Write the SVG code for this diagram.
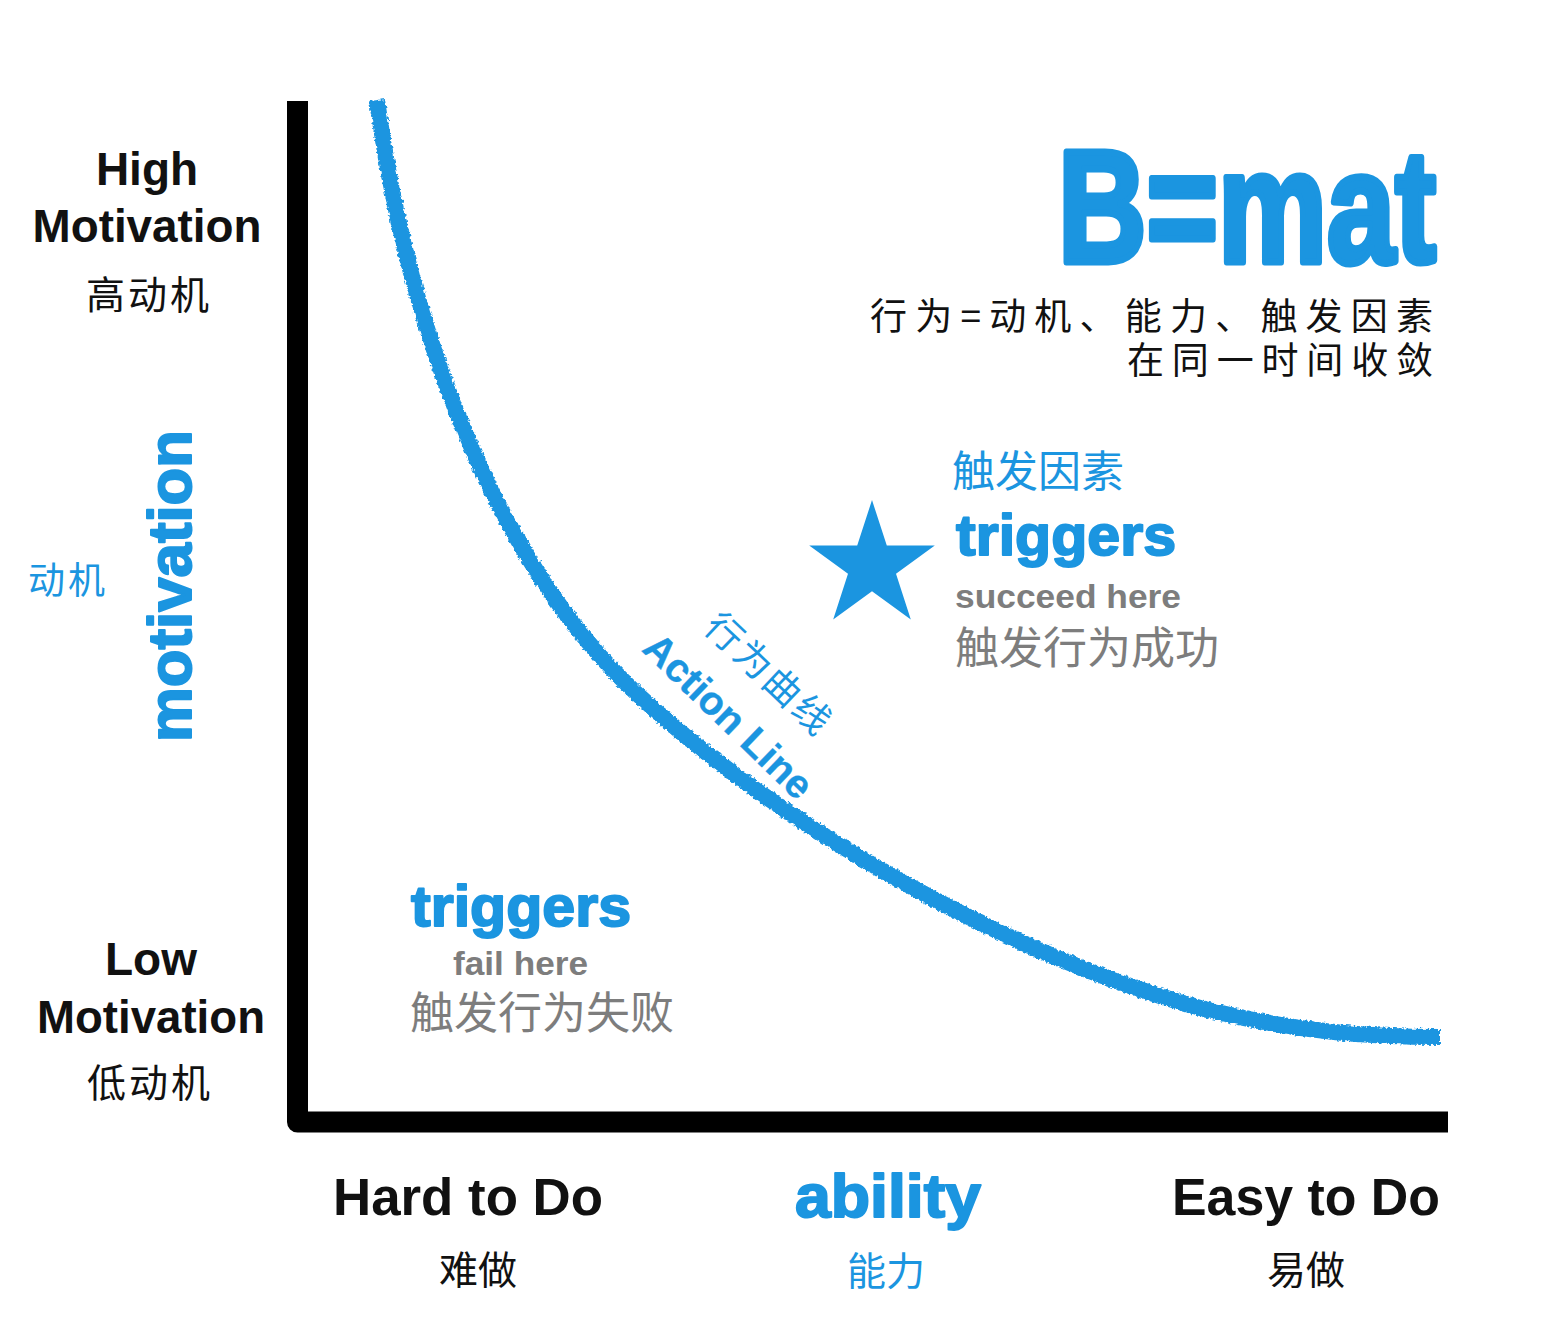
<svg xmlns="http://www.w3.org/2000/svg" width="1566" height="1324" viewBox="0 0 1566 1324">
<defs>
<style>
.en{font-family:"Liberation Sans",Arial,sans-serif;font-weight:bold;fill:#111}
.cn{font-family:"Noto Sans CJK SC",sans-serif;fill:#111}
.blue{fill:#1b95e0}
.gray{fill:#7d7d7d}
.heavy{font-family:"Liberation Sans",Arial,sans-serif;font-weight:bold;fill:#1b95e0;stroke:#1b95e0;stroke-width:2;stroke-linejoin:round}
.mid{text-anchor:middle}
</style>
<filter id="crayon" x="-5%" y="-5%" width="110%" height="110%">
<feTurbulence type="fractalNoise" baseFrequency="0.35" numOctaves="2" seed="3" result="n"/>
<feDisplacementMap in="SourceGraphic" in2="n" scale="5" xChannelSelector="R" yChannelSelector="G"/>
</filter>
</defs>
<rect width="1566" height="1324" fill="#fff"/>

<g id="axes">
<path d="M297.5,101 V1122 H1448" fill="none" stroke="#000" stroke-width="21" stroke-linejoin="round"/>
</g>

<g id="connectors">
<path id="action-line" d="M377,100 C408,330 495,560 635,692 C775,822 1000,952 1200,1008 C1303,1034 1380,1037 1440,1037" fill="none" stroke="#1b95e0" stroke-width="16" filter="url(#crayon)"/>
</g>

<g id="high-motivation">
<text class="en mid" x="147" y="185" font-size="46">High</text>
<text class="en mid" x="147" y="242" font-size="46" textLength="229" lengthAdjust="spacingAndGlyphs">Motivation</text>
<text class="cn mid" x="149" y="309" font-size="39" letter-spacing="3">高动机</text>
</g>

<g id="low-motivation">
<text class="en mid" x="151" y="975" font-size="46">Low</text>
<text class="en mid" x="151" y="1033" font-size="46" textLength="228" lengthAdjust="spacingAndGlyphs">Motivation</text>
<text class="cn mid" x="150" y="1097" font-size="39" letter-spacing="3">低动机</text>
</g>

<g id="motivation-axis-label">
<text class="heavy mid" transform="translate(191,586) rotate(-90)" font-size="62" textLength="312" lengthAdjust="spacingAndGlyphs">motivation</text>
<text class="cn blue" x="28" y="594" font-size="37" letter-spacing="3">动机</text>
</g>

<g id="formula">
<text x="1058" y="262" font-family="Liberation Sans,Arial,sans-serif" font-weight="bold" font-size="160" fill="#1b95e0" stroke="#1b95e0" stroke-width="7" stroke-linejoin="round" textLength="378" lengthAdjust="spacingAndGlyphs">B=mat</text>
<text class="cn" x="870" y="330" font-size="37" textLength="563" lengthAdjust="spacing">行为=动机、能力、触发因素</text>
<text class="cn" x="1127" y="374" font-size="37" textLength="306" lengthAdjust="spacing">在同一时间收敛</text>
</g>

<g id="success">
<polygon class="blue" points="872,500 886.8,545.6 934.8,545.6 896,573.8 910.8,619.4 872,591.2 833.2,619.4 848,573.8 809.2,545.6 857.2,545.6"/>
<text class="cn blue" x="952" y="487" font-size="43">触发因素</text>
<text class="heavy" x="956" y="555" font-size="58" textLength="220" lengthAdjust="spacingAndGlyphs">triggers</text>
<text class="en gray" x="955" y="608" font-size="33" textLength="226" lengthAdjust="spacingAndGlyphs">succeed here</text>
<text class="cn gray" x="955" y="664" font-size="44">触发行为成功</text>
</g>

<g id="fail">
<text class="heavy" x="411" y="926" font-size="58" textLength="220" lengthAdjust="spacingAndGlyphs">triggers</text>
<text class="en gray" x="453" y="975" font-size="33" textLength="135" lengthAdjust="spacingAndGlyphs">fail here</text>
<text class="cn gray" x="410" y="1029" font-size="44">触发行为失败</text>
</g>

<g id="action-line-label">
<text class="cn blue mid" transform="translate(760,684) rotate(43.5)" font-size="37" letter-spacing="3">行为曲线</text>
<text class="en blue mid" transform="translate(719,726) rotate(44)" font-size="40" font-weight="normal" stroke="#1b95e0" stroke-width="0.4">Action Line</text>
</g>

<g id="hard">
<text class="en" x="333" y="1215" font-size="51" textLength="270" lengthAdjust="spacingAndGlyphs">Hard to Do</text>
<text class="cn mid" x="478" y="1284" font-size="39">难做</text>
</g>

<g id="ability">
<text class="heavy" x="795" y="1217" font-size="62" textLength="186" lengthAdjust="spacingAndGlyphs">ability</text>
<text class="cn blue mid" x="886" y="1285" font-size="39">能力</text>
</g>

<g id="easy">
<text class="en" x="1172" y="1215" font-size="51" textLength="268" lengthAdjust="spacingAndGlyphs">Easy to Do</text>
<text class="cn mid" x="1306" y="1284" font-size="39">易做</text>
</g>
</svg>
